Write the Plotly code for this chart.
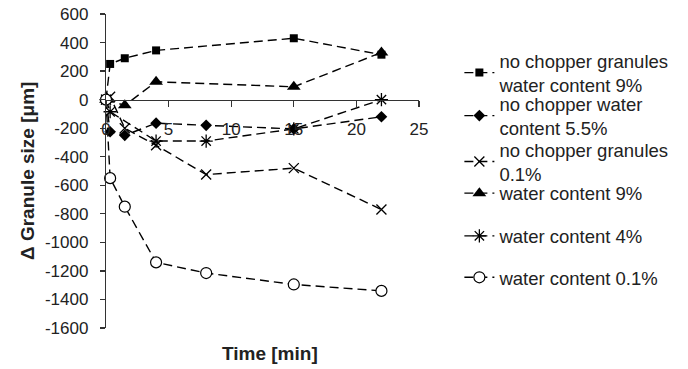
import plotly.graph_objects as go

# ---- data ----
t_sq = [0, 0.33, 1.5, 4, 15, 22]
v_sq = [0, 250, 290, 345, 430, 315]

t_dia = [0, 0.33, 1.5, 4, 8, 15, 22]
v_dia = [0, -225, -250, -165, -180, -205, -120]

t_x = [0, 0.33, 1.5, 4, 8, 15, 22]
v_x = [0, 20, -200, -320, -525, -480, -770]

t_tri = [0, 1.5, 4, 15, 22]
v_tri = [0, -40, 125, 90, 330]

t_ast = [0, 0.33, 4, 8, 15, 22]
v_ast = [0, -85, -290, -290, -205, 0]

t_circ = [0, 0.33, 1.5, 4, 8, 15, 22]
v_circ = [0, -550, -750, -1140, -1215, -1295, -1340]

names = [
    "no chopper granules<br>water content 9%",
    "no chopper water<br>content 5.5%",
    "no chopper granules<br>0.1%",
    "water content 9%",
    "water content 4%",
    "water content 0.1%",
]

x_ticks = [0, 5, 10, 15, 20, 25]
y_ticks = list(range(-1600, 601, 200))

FONT = "Liberation Sans, Arial, sans-serif"
DASH = "9px,5px"

series = [
    (t_sq, v_sq, dict(symbol="square", size=8, color="black")),
    (t_dia, v_dia, dict(symbol="diamond", size=9, color="black")),
    (t_x, v_x, dict(symbol="x-thin-open", size=10, color="black", line=dict(width=1.3, color="black"))),
    (t_tri, v_tri, dict(symbol="triangle-up", size=12, color="black")),
    (t_ast, v_ast, dict(symbol="asterisk-open", size=11, color="black", line=dict(width=1.3, color="black"))),
    (t_circ, v_circ, dict(symbol="circle", size=11, color="white", line=dict(width=1.2, color="black"))),
]

legend_ids = ["legend", "legend2", "legend3", "legend4", "legend5", "legend6"]
legend_y = [0.812, 0.675, 0.529, 0.428, 0.292, 0.160]

fig = go.Figure()
for (tx, vy, mk), nm, lid in zip(series, names, legend_ids):
    fig.add_trace(go.Scatter(
        x=tx, y=vy, name=nm, mode="lines+markers",
        line=dict(color="black", width=1.4, dash=DASH),
        marker=mk, cliponaxis=False, legend=lid,
    ))

W, H = 688, 369
ml, mr, mt, mb = 106, 269, 14, 41
PW, PH = W - ml - mr, H - mt - mb

layout_legends = {}
for lid, ly in zip(legend_ids, legend_y):
    layout_legends[lid] = dict(
        x=1.129, y=ly, xanchor="left", yanchor="middle",
        font=dict(family=FONT, size=18.5, color="#222"),
        bgcolor="rgba(0,0,0,0)", borderwidth=0,
    )

fig.update_layout(
    width=W, height=H,
    margin=dict(l=ml, r=mr, t=mt, b=mb, autoexpand=False),
    paper_bgcolor="white", plot_bgcolor="white",
    font=dict(family=FONT, size=17, color="#222"),
    showlegend=True,
    **layout_legends,
    xaxis=dict(
        range=[0, 25], tickvals=x_ticks, ticktext=[str(v) for v in x_ticks],
        showgrid=False, zeroline=False, showline=True, linecolor="#333", linewidth=1.2,
        ticks="outside", ticklen=6, tickcolor="#333", tickwidth=1.2,
        anchor="free", position=1600 / 2200, ticklabelstandoff=8,
        ticklabeloverflow="allow",
        tickfont=dict(family=FONT, size=17, color="#222"),
    ),
    yaxis=dict(
        range=[-1600, 600], tickvals=y_ticks, ticktext=[str(v) for v in y_ticks],
        showgrid=False, zeroline=False, showline=True, linecolor="#333", linewidth=1.2,
        ticks="outside", ticklen=5, tickcolor="#333", tickwidth=1.2,
        ticklabelstandoff=8, ticklabeloverflow="allow",
        tickfont=dict(family=FONT, size=17, color="#222"),
    ),
    annotations=[
        dict(text="<b>Time [min]</b>", xref="paper", yref="paper",
             x=(270 - ml) / PW, y=-(353 - (H - mb)) / PH,
             xanchor="center", yanchor="middle", showarrow=False,
             font=dict(family=FONT, size=19, color="#222")),
        dict(text="<b>Δ Granule size [μm]</b>", xref="paper", yref="paper",
             x=(27 - ml) / PW, y=0.5, textangle=-90,
             xanchor="center", yanchor="middle", showarrow=False,
             font=dict(family=FONT, size=19, color="#222")),
    ],
)

# remove the browser's default page margin so the figure fills the window exactly
fig.write_html(
    "out.html",
    config={"displayModeBar": False, "staticPlot": True},
    post_script="document.body.style.margin='0';document.body.style.overflow='hidden';",
)
